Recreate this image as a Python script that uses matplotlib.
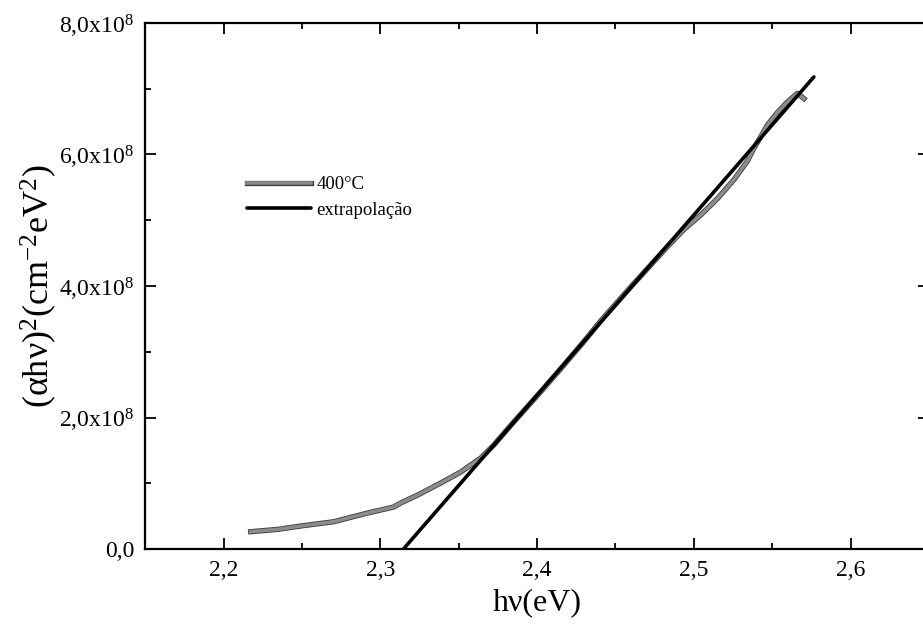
import matplotlib
matplotlib.use("Agg")
import matplotlib.pyplot as plt
import matplotlib.patheffects as pe
from matplotlib.ticker import MultipleLocator, FuncFormatter

plt.rcParams['font.family'] = ['Liberation Serif', 'DejaVu Serif']
plt.rcParams['mathtext.fontset'] = 'custom'
plt.rcParams['mathtext.rm'] = 'Liberation Serif'
plt.rcParams['mathtext.it'] = 'Liberation Serif:italic'
plt.rcParams['mathtext.default'] = 'regular'

# measured curve, 400 C sample
hv = [2.2172, 2.235, 2.2491, 2.2702, 2.2919, 2.3002, 2.3085, 2.3130, 2.3238,
      2.3385, 2.3512, 2.3640, 2.3723, 2.385, 2.400, 2.415, 2.430, 2.4406,
      2.4618, 2.4832, 2.4937, 2.5044, 2.5151, 2.5257, 2.5342, 2.5384, 2.5427,
      2.5470, 2.5534, 2.5597, 2.5661, 2.5703]
ahv2 = [0.263e8, 0.300e8, 0.350e8, 0.415e8, 0.548e8, 0.593e8, 0.639e8, 0.700e8,
        0.821e8, 1.004e8, 1.17e8, 1.384e8, 1.58e8, 1.93e8, 2.33e8, 2.74e8,
        3.16e8, 3.47e8, 4.04e8, 4.60e8, 4.86e8, 5.08e8, 5.33e8, 5.62e8,
        5.90e8, 6.10e8, 6.27e8, 6.45e8, 6.64e8, 6.80e8, 6.93e8, 6.85e8]

# linear extrapolation (end points)
hv_fit = [2.3147, 2.5766]
ahv2_fit = [0.0, 7.18e8]

fig = plt.figure(figsize=(9.23, 6.44), dpi=100)
ax = fig.add_axes([0.1575, 0.1475, 0.8489, 0.8168])

ax.plot(hv, ahv2, color='#8c8c8c', lw=2.6, label='400°C', zorder=2,
        path_effects=[pe.Stroke(linewidth=3.8, foreground='#3a3a3a'), pe.Normal()])
ax.plot(hv_fit, ahv2_fit, color='black', lw=2.6, label='extrapolação', zorder=3,
        solid_capstyle='round')

ax.set_xlim(2.15, 2.65)
ax.set_ylim(0, 8e8)

ax.xaxis.set_major_locator(MultipleLocator(0.1))
ax.xaxis.set_minor_locator(MultipleLocator(0.05))
ax.yaxis.set_major_locator(MultipleLocator(2e8))
ax.yaxis.set_minor_locator(MultipleLocator(1e8))

ax.xaxis.set_major_formatter(FuncFormatter(lambda v, p: f"{v:.1f}".replace('.', ',')))


def yfmt(v, p):
    if abs(v) < 1:
        return "0,0"
    return f"{v / 1e8:.1f}".replace('.', ',') + "x10$^8$"


ax.yaxis.set_major_formatter(FuncFormatter(yfmt))

ax.tick_params(which='both', direction='in', top=True, right=True, width=1.3)
ax.tick_params(which='major', length=8, labelsize=17, pad=8)
ax.tick_params(which='minor', length=4)
for s in ax.spines.values():
    s.set_linewidth(1.6)

ax.set_xlabel("hν(eV)", fontsize=23, labelpad=5)
ax.set_ylabel("(αhν)$^2$(cm$^{-2}$eV$^2$)", fontsize=26, labelpad=0)

leg = ax.legend(loc='center left', bbox_to_anchor=(0.1297, 0.668), frameon=False,
                fontsize=13.5, handlelength=3.4, handletextpad=0.3,
                labelspacing=0.45, borderpad=0, borderaxespad=0)

fig.savefig("out.png", dpi=100)
